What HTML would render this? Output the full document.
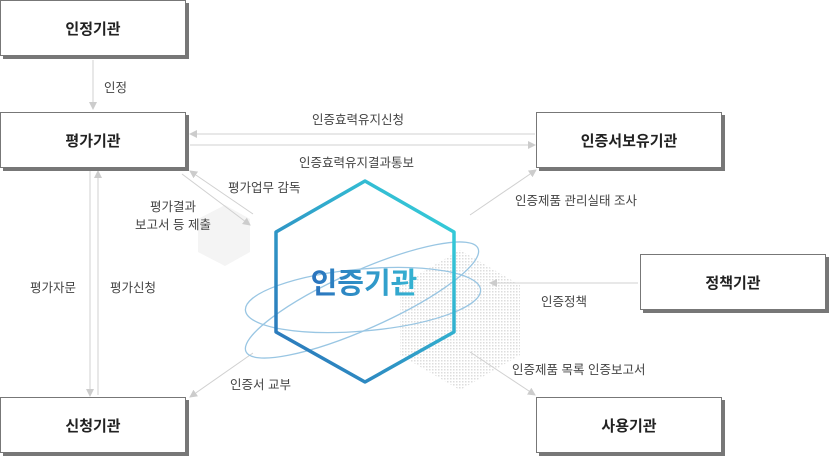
<!DOCTYPE html>
<html><head><meta charset="utf-8"><style>
html,body{margin:0;padding:0;background:#fff;}
body{width:830px;height:458px;overflow:hidden;position:relative;font-family:"Liberation Sans","Noto Sans CJK KR",sans-serif;}
.b{position:absolute;width:184px;height:54px;border:1px solid #777;background:#fff;box-shadow:3px 3px 0 #777;display:flex;align-items:center;justify-content:center;font-size:15px;color:#222;font-weight:bold;}
.t{position:absolute;font-size:12.5px;color:#444;white-space:nowrap;}
svg{position:absolute;left:0;top:0;}
</style></head><body>
<svg width="830" height="458">
<defs>
<marker id="a" markerWidth="8" markerHeight="8" refX="7" refY="4" orient="auto" markerUnits="userSpaceOnUse"><path d="M0,0 L8,4 L0,8z" fill="#ccc"/></marker>
<linearGradient id="g" x1="0" y1="1" x2="1" y2="0"><stop offset="0" stop-color="#2a6fb8"/><stop offset="1" stop-color="#36d6dc"/></linearGradient>
<linearGradient id="tg" x1="0" y1="0" x2="1" y2="0"><stop offset="0" stop-color="#2a72bd"/><stop offset="1" stop-color="#35b4d2"/></linearGradient>
<pattern id="d" width="3" height="3" patternUnits="userSpaceOnUse"><rect width="1.5" height="1.5" fill="#ddd"/></pattern>
</defs>
<polygon points="225,205 250,219 250,252 225,266 198,252 198,219" fill="#f4f4f4"/>
<polygon points="460,250 520,285 520,355 460,390 400,355 400,285" fill="url(#d)"/>
<g stroke="#d0d0d0" stroke-width="1" fill="none">
<line x1="93" y1="60" x2="93" y2="109" marker-end="url(#a)"/>
<line x1="535" y1="134" x2="190" y2="134" marker-end="url(#a)"/>
<line x1="190" y1="145" x2="535" y2="145" marker-end="url(#a)"/>
<line x1="90" y1="171" x2="90" y2="396" marker-end="url(#a)"/>
<line x1="98" y1="395" x2="98" y2="171" marker-end="url(#a)"/>
<line x1="253" y1="214" x2="190" y2="171" marker-end="url(#a)"/>
<line x1="182" y1="174" x2="250" y2="225" marker-end="url(#a)"/>
<line x1="470" y1="215" x2="536" y2="170" marker-end="url(#a)"/>
<line x1="638" y1="283" x2="490" y2="283" marker-end="url(#a)"/>
<line x1="470" y1="352" x2="535" y2="395" marker-end="url(#a)"/>
<line x1="253" y1="353" x2="190" y2="397" marker-end="url(#a)"/>
</g>
<g fill="none" stroke="#8fc0e0" stroke-width="1.3" opacity="0.9">
<ellipse cx="363" cy="300" rx="118" ry="31" transform="rotate(-5 363 300)"/>
<ellipse cx="362" cy="300" rx="127" ry="29" transform="rotate(-24 362 300)"/>
</g>
<polygon points="365,181 454,232 454,332 365,382 276,332 276,232" fill="none" stroke="url(#g)" stroke-width="3.5" stroke-linejoin="round"/>
<text x="364" y="293" text-anchor="middle" font-size="29" font-weight="bold" fill="url(#tg)" font-family="Liberation Sans, Noto Sans CJK KR, sans-serif">인증기관</text>
</svg>
<div class="b" style="left:0px;top:0px">인정기관</div>
<div class="b" style="left:0px;top:112px">평가기관</div>
<div class="b" style="left:0px;top:397px">신청기관</div>
<div class="b" style="left:536px;top:112px">인증서보유기관</div>
<div class="b" style="left:640px;top:254px">정책기관</div>
<div class="b" style="left:536px;top:397px">사용기관</div>
<div class="t" style="left:104px;top:77px">인정</div>
<div class="t" style="left:312px;top:109px">인증효력유지신청</div>
<div class="t" style="left:299px;top:152px">인증효력유지결과통보</div>
<div class="t" style="left:228px;top:177px">평가업무 감독</div>
<div class="t" style="left:150px;top:196px">평가결과</div>
<div class="t" style="left:135px;top:214px">보고서 등 제출</div>
<div class="t" style="left:30px;top:277px">평가자문</div>
<div class="t" style="left:110px;top:277px">평가신청</div>
<div class="t" style="left:515px;top:190px">인증제품 관리실태 조사</div>
<div class="t" style="left:541px;top:291px">인증정책</div>
<div class="t" style="left:512px;top:359px">인증제품 목록 인증보고서</div>
<div class="t" style="left:230px;top:374px">인증서 교부</div>
</body></html>
